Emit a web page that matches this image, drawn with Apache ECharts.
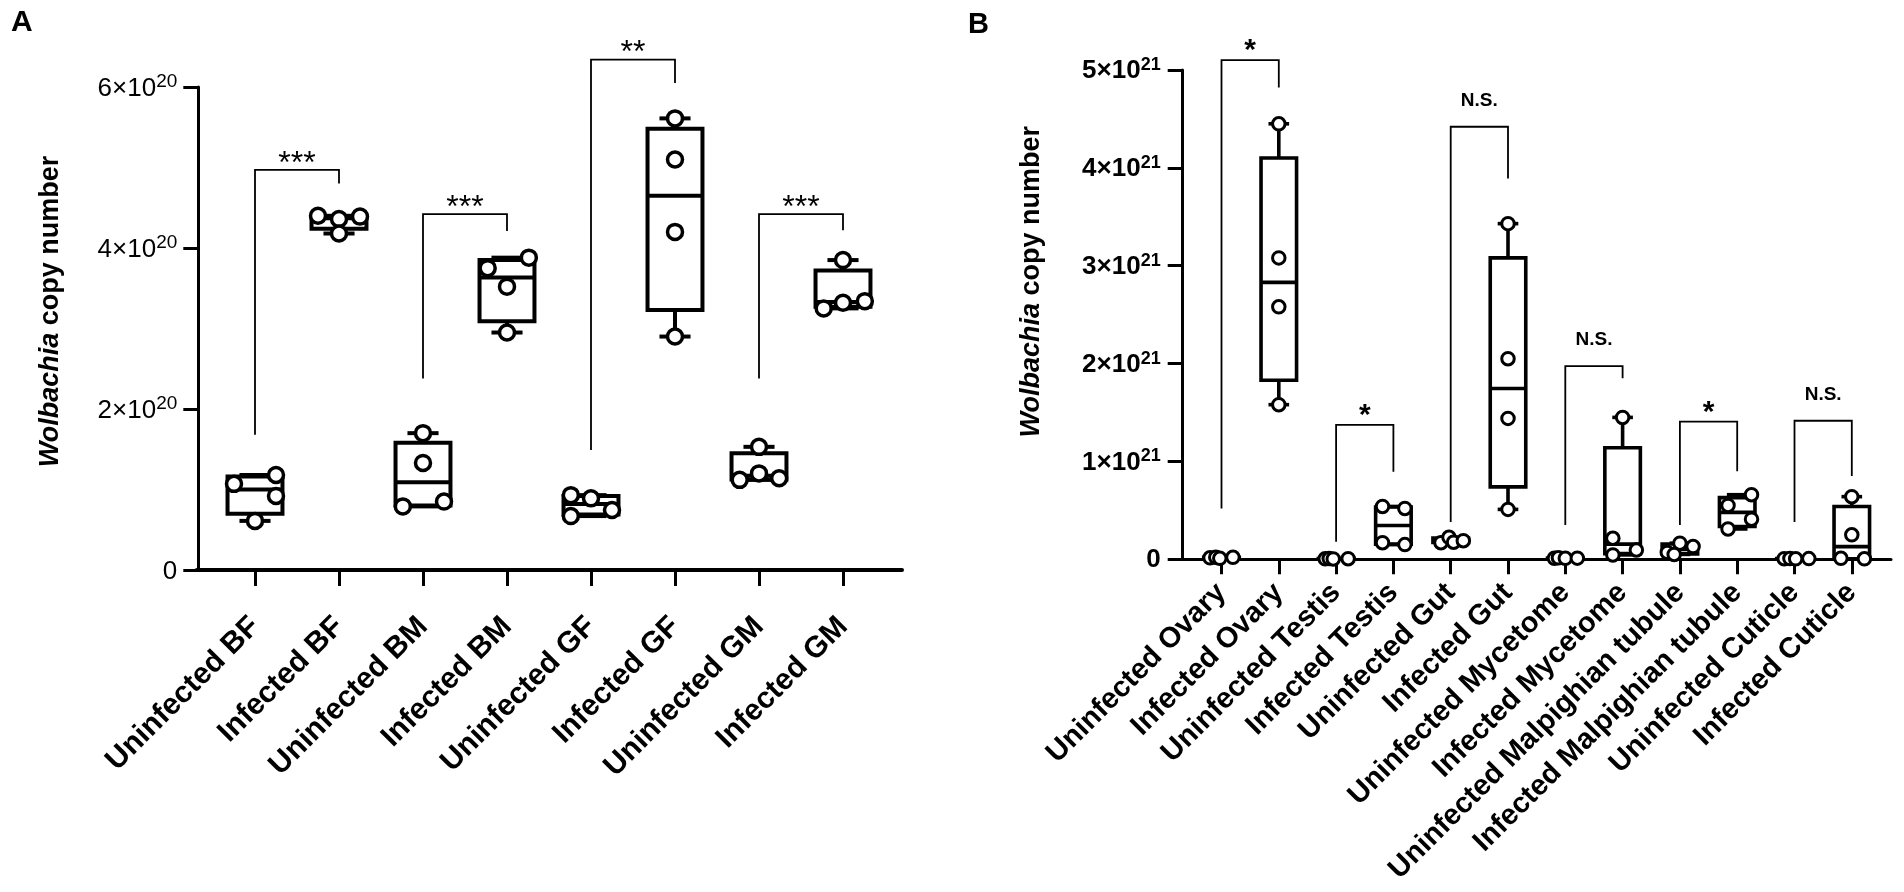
<!DOCTYPE html>
<html><head><meta charset="utf-8">
<script src="https://cdn.jsdelivr.net/npm/echarts@6/dist/echarts.min.js"></script>
<style>html,body{margin:0;padding:0;background:#fff}#c{width:1904px;height:892px}</style>
</head><body><div id="c"></div>
<script>
// ---------- Panel A data ----------
const catsA = ['Uninfected BF','Infected BF','Uninfected BM','Infected BM','Uninfected GF','Infected GF','Uninfected GM','Infected GM'];
const yTicksA = [0, 2e20, 4e20, 6e20];
const yLabelsA = ['{b|0}', '{b|2×10}{s|20}', '{b|4×10}{s|20}', '{b|6×10}{s|20}'];
// individual points per group
const valuesA = [
  [1.07e20, 1.18e20, 0.92e20, 0.61e20],
  [4.40e20, 4.36e20, 4.39e20, 4.18e20],
  [1.70e20, 1.33e20, 0.79e20, 0.85e20],
  [3.75e20, 3.88e20, 3.52e20, 2.95e20],
  [0.93e20, 0.89e20, 0.67e20, 0.745e20],
  [5.61e20, 5.10e20, 4.20e20, 2.90e20],
  [1.53e20, 1.20e20, 1.12e20, 1.14e20],
  [3.85e20, 3.25e20, 3.32e20, 3.34e20]
];
// box stats [min, Q1, median, Q3, max]
const boxA = [
  [0.61e20, 0.70e20, 1.00e20, 1.16e20, 1.18e20],
  [4.18e20, 4.24e20, 4.37e20, 4.39e20, 4.40e20],
  [0.79e20, 0.80e20, 1.09e20, 1.58e20, 1.70e20],
  [2.95e20, 3.09e20, 3.635e20, 3.85e20, 3.88e20],
  [0.67e20, 0.69e20, 0.82e20, 0.92e20, 0.93e20],
  [2.90e20, 3.23e20, 4.65e20, 5.48e20, 5.61e20],
  [1.12e20, 1.125e20, 1.17e20, 1.45e20, 1.53e20],
  [3.25e20, 3.27e20, 3.33e20, 3.72e20, 3.85e20]
];
// significance brackets
const bracketPairsA = [[0,1],[2,3],[4,5],[6,7]];
const bracketLabelsA = ['***','***','**','***'];
const bracketTopA = [4.97e20, 4.42e20, 6.34e20, 4.42e20];
const bracketLeftEndA = [1.68e20, 2.38e20, 1.49e20, 2.38e20];
const bracketRightEndA = [4.80e20, 4.21e20, 6.05e20, 4.22e20];

// ---------- Panel B data ----------
const catsB = ['Uninfected Ovary','Infected Ovary','Uninfected Testis','Infected Testis','Uninfected Gut','Infected Gut','Uninfected Mycetome','Infected Mycetome','Uninfected Malpighian tubule','Infected Malpighian tubule','Uninfected Cuticle','Infected Cuticle'];
const yTicksB = [0, 1e21, 2e21, 3e21, 4e21, 5e21];
const yLabelsB = ['{b|0}', '{b|1×10}{s|21}', '{b|2×10}{s|21}', '{b|3×10}{s|21}', '{b|4×10}{s|21}', '{b|5×10}{s|21}'];
const valuesB = [
  [0.015e21, 0.02e21, 0.01e21, 0.02e21],
  [4.45e21, 3.08e21, 2.58e21, 1.58e21],
  [0.005e21, 0.008e21, 0.004e21, 0.006e21],
  [0.54e21, 0.52e21, 0.17e21, 0.15e21],
  [0.17e21, 0.225e21, 0.175e21, 0.19e21],
  [3.43e21, 2.05e21, 1.44e21, 0.51e21],
  [0.01e21, 0.015e21, 0.01e21, 0.012e21],
  [1.45e21, 0.215e21, 0.045e21, 0.095e21],
  [0.07e21, 0.165e21, 0.13e21, 0.05e21],
  [0.66e21, 0.55e21, 0.41e21, 0.31e21],
  [0.006e21, 0.008e21, 0.005e21, 0.007e21],
  [0.64e21, 0.25e21, 0.01e21, 0.005e21]
];
const boxB = [
  [0.01e21, 0.011e21, 0.0175e21, 0.02e21, 0.02e21],
  [1.58e21, 1.83e21, 2.83e21, 4.10e21, 4.45e21],
  [0.004e21, 0.0043e21, 0.0055e21, 0.0075e21, 0.008e21],
  [0.15e21, 0.155e21, 0.345e21, 0.535e21, 0.54e21],
  [0.17e21, 0.171e21, 0.1825e21, 0.216e21, 0.225e21],
  [0.51e21, 0.74e21, 1.745e21, 3.08e21, 3.43e21],
  [0.01e21, 0.01e21, 0.011e21, 0.014e21, 0.015e21],
  [0.045e21, 0.0575e21, 0.155e21, 1.14e21, 1.45e21],
  [0.05e21, 0.055e21, 0.10e21, 0.156e21, 0.165e21],
  [0.31e21, 0.335e21, 0.48e21, 0.63e21, 0.66e21],
  [0.005e21, 0.0055e21, 0.0065e21, 0.0078e21, 0.008e21],
  [0.005e21, 0.006e21, 0.13e21, 0.54e21, 0.64e21]
];
const bracketPairsB = [[0,1],[2,3],[4,5],[6,7],[8,9],[10,11]];
const bracketLabelsB = ['*','*','N.S.','N.S.','*','N.S.'];
const bracketTopB = [5.10e21, 1.373e21, 4.42e21, 1.975e21, 1.406e21, 1.416e21];
const bracketLeftEndB = [0.52e21, 0.18e21, 0.38e21, 0.35e21, 0.35e21, 0.38e21];
const bracketRightEndB = [4.82e21, 0.895e21, 3.89e21, 1.85e21, 0.90e21, 0.85e21];

// ---------- layout (horizontal spread of points, in category units) ----------
const jitterA = [
  [-0.25, 0.25, 0.25, 0], [-0.25, 0, 0.25, 0], [0, 0, -0.24, 0.25], [-0.23, 0.26, 0, 0],
  [-0.24, 0, -0.24, 0.25], [0, 0, 0, 0], [0, 0, -0.23, 0.24], [0, -0.23, 0, 0.26]
];
const jitterB = [
  [-0.2, -0.1, -0.03, 0.2], [0, 0, 0, 0], [-0.19, -0.12, -0.05, 0.21], [-0.19, 0.2, -0.19, 0.2],
  [-0.17, -0.03, 0.05, 0.22], [0, 0, 0, 0], [-0.19, -0.12, 0.0, 0.21], [0, -0.17, -0.17, 0.24],
  [-0.22, 0.0, 0.23, -0.1], [0.25, -0.16, 0.25, -0.16], [-0.18, -0.08, 0.02, 0.25], [0, 0, -0.19, 0.22]
];

const FONT = '"Liberation Sans", Arial, Helvetica, sans-serif';

function boxRender(halfW, capHalf, lw) {
  return function (params, api) {
    const x = api.value(0);
    const p = [1,2,3,4,5].map(i => api.coord([x, api.value(i)]));
    const unit = api.size([1, 0])[0];
    const hw = halfW * unit, ch = capHalf * unit;
    const cx = p[0][0];
    const st = {stroke: '#000', lineWidth: lw, fill: null};
    return {type: 'group', children: [
      {type: 'line', shape: {x1: cx, y1: p[3][1], x2: cx, y2: p[4][1]}, style: st},
      {type: 'line', shape: {x1: cx, y1: p[1][1], x2: cx, y2: p[0][1]}, style: st},
      {type: 'line', shape: {x1: cx - ch, y1: p[4][1], x2: cx + ch, y2: p[4][1]}, style: st},
      {type: 'line', shape: {x1: cx - ch, y1: p[0][1], x2: cx + ch, y2: p[0][1]}, style: st},
      {type: 'rect', shape: {x: cx - hw, y: p[3][1], width: 2 * hw, height: Math.max(p[1][1] - p[3][1], 0.5)}, style: st},
      {type: 'line', shape: {x1: cx - hw, y1: p[2][1], x2: cx + hw, y2: p[2][1]}, style: st}
    ]};
  };
}

function bracketRender(labels, lw, fontCfg) {
  return function (params, api) {
    const a = api.coord([api.value(0), api.value(2)]);
    const b = api.coord([api.value(1), api.value(2)]);
    const la = api.coord([api.value(0), api.value(3)]);
    const rb = api.coord([api.value(1), api.value(4)]);
    const lab = labels[params.dataIndex];
    const star = lab.indexOf('*') >= 0;
    const f = star ? fontCfg.star : fontCfg.ns;
    return {type: 'group', children: [
      {type: 'polyline', shape: {points: [[la[0], la[1]], [a[0], a[1]], [b[0], b[1]], [rb[0], rb[1]]]},
       style: {stroke: '#000', lineWidth: lw, fill: null}},
      {type: 'text', x: (a[0] + b[0]) / 2, y: a[1] - f.gap,
       style: {text: lab, fill: '#000', fontSize: f.size, fontWeight: f.weight, fontFamily: FONT,
               align: 'center', verticalAlign: 'middle'}}
    ]};
  };
}

function pts(values, jitter) {
  const out = [];
  values.forEach((g, i) => g.forEach((v, j) => out.push([i + jitter[i][j], v])));
  return out;
}

const nameRich = (fs) => ({
  i: {fontSize: fs, fontWeight: 'bold', fontStyle: 'italic', fontFamily: FONT, color: '#000'},
  n: {fontSize: fs, fontWeight: 'bold', fontFamily: FONT, color: '#000'}
});

const option = {
  animation: false,
  backgroundColor: '#fff',
  title: [
    {text: 'A', left: 11, top: 8, padding: 0, textStyle: {fontSize: 30, fontWeight: 'bold', fontFamily: FONT, color: '#000'}},
    {text: 'B', left: 968, top: 10, padding: 0, textStyle: {fontSize: 29, fontWeight: 'bold', fontFamily: FONT, color: '#000'}}
  ],
  grid: [
    {left: 213, top: 87, width: 672, height: 483, outerBoundsMode: 'none'},
    {left: 196.8, top: 87, width: 705.2, height: 483, outerBoundsMode: 'none'},
    {left: 1192.85, top: 70, width: 687.6, height: 489.3, outerBoundsMode: 'none'},
    {left: 1181.2, top: 70, width: 709.8, height: 489.3, outerBoundsMode: 'none'}
  ],
  xAxis: [
    {type: 'category', gridIndex: 0, data: catsA, boundaryGap: true,
     axisLine: {show: false, onZero: false},
     axisTick: {show: true, alignWithLabel: true, length: 16, lineStyle: {color: '#000', width: 3}},
     axisLabel: {interval: 0, rotate: 45, margin: 52, padding: [14, 0, 0, 0], fontSize: 30, fontWeight: 'bold', fontFamily: FONT, color: '#000'},
     splitLine: {show: false}},
    {type: 'value', gridIndex: 0, min: -0.5, max: 7.5, show: false, axisLine: {onZero: false}},
    {type: 'value', gridIndex: 1, min: 0, max: 1,
     axisLine: {show: true, onZero: false, lineStyle: {color: '#000', width: 4}},
     axisTick: {show: false}, axisLabel: {show: false}, splitLine: {show: false}},
    {type: 'category', gridIndex: 2, data: catsB, boundaryGap: true,
     axisLine: {show: false, onZero: false},
     axisTick: {show: true, alignWithLabel: true, length: 15, lineStyle: {color: '#000', width: 3}},
     axisLabel: {interval: 0, rotate: 45, margin: 29, padding: [27, 0, 0, 0], fontSize: 29, fontWeight: 'bold', fontFamily: FONT, color: '#000'},
     splitLine: {show: false}},
    {type: 'value', gridIndex: 2, min: -0.5, max: 11.5, show: false, axisLine: {onZero: false}},
    {type: 'value', gridIndex: 3, min: 0, max: 1,
     axisLine: {show: true, onZero: false, lineStyle: {color: '#000', width: 3}},
     axisTick: {show: false}, axisLabel: {show: false}, splitLine: {show: false}}
  ],
  yAxis: [
    {type: 'value', gridIndex: 0, min: yTicksA[0], max: yTicksA[yTicksA.length - 1], interval: yTicksA[1] - yTicksA[0],
     offset: 14.7,
     axisLine: {show: true, onZero: false, lineStyle: {color: '#000', width: 3}},
     axisTick: {show: true, length: 15, lineStyle: {color: '#000', width: 3}},
     splitLine: {show: false},
     axisLabel: {margin: 21, formatter: (v, i) => yLabelsA[i],
       rich: {b: {fontSize: 26, fontFamily: FONT, color: '#000', lineHeight: 30, verticalAlign: 'bottom'},
              s: {fontSize: 19, fontFamily: FONT, color: '#000', lineHeight: 20, verticalAlign: 'top'}}},
     name: '{i|Wolbachia} {n|copy number}', nameLocation: 'middle', nameGap: 134, nameRotate: 90,
     nameTextStyle: {fontSize: 27, fontWeight: 'bold', fontFamily: FONT, color: '#000', padding: [0, 0, 0, 34], rich: nameRich(27)}},
    {type: 'value', gridIndex: 1, min: 0, max: 1, show: false, axisLine: {onZero: false}},
    {type: 'value', gridIndex: 2, min: yTicksB[0], max: yTicksB[yTicksB.length - 1], interval: yTicksB[1] - yTicksB[0],
     offset: 10.15,
     axisLine: {show: true, onZero: false, lineStyle: {color: '#000', width: 3}},
     axisTick: {show: true, length: 15, lineStyle: {color: '#000', width: 3}},
     splitLine: {show: false},
     axisLabel: {margin: 22, formatter: (v, i) => yLabelsB[i],
       rich: {b: {fontSize: 26, fontWeight: 'bold', fontFamily: FONT, color: '#000', lineHeight: 28, verticalAlign: 'bottom'},
              s: {fontSize: 18, fontWeight: 'bold', fontFamily: FONT, color: '#000', lineHeight: 14, verticalAlign: 'top'}}},
     name: '{i|Wolbachia} {n|copy number}', nameLocation: 'middle', nameGap: 138, nameRotate: 90,
     nameTextStyle: {fontSize: 27, fontWeight: 'bold', fontFamily: FONT, color: '#000', padding: [0, 0, 0, 66], rich: nameRich(27)}},
    {type: 'value', gridIndex: 3, min: 0, max: 1, show: false, axisLine: {onZero: false}}
  ],
  series: [
    {type: 'custom', xAxisIndex: 1, yAxisIndex: 0, z: 2, clip: false,
     data: boxA.map((b, i) => [i].concat(b)), encode: {x: 0, y: [1, 2, 3, 4, 5]},
     renderItem: boxRender(0.327, 0.185, 4)},
    {type: 'custom', xAxisIndex: 1, yAxisIndex: 0, z: 2, clip: false,
     data: bracketPairsA.map((p, i) => [p[0], p[1], bracketTopA[i], bracketLeftEndA[i], bracketRightEndA[i]]),
     encode: {x: [0, 1], y: [2, 3, 4]},
     renderItem: bracketRender(bracketLabelsA, 1.8, {star: {size: 32, weight: 'normal', gap: 6}, ns: {size: 20, weight: 'bold', gap: 26}})},
    {type: 'scatter', xAxisIndex: 1, yAxisIndex: 0, z: 3, symbol: 'circle', symbolSize: 15,
     itemStyle: {color: '#fff', borderColor: '#000', borderWidth: 3.5, opacity: 1},
     data: pts(valuesA, jitterA)},
    {type: 'custom', xAxisIndex: 4, yAxisIndex: 2, z: 2, clip: false,
     data: boxB.map((b, i) => [i].concat(b)), encode: {x: 0, y: [1, 2, 3, 4, 5]},
     renderItem: boxRender(0.31, 0.18, 3.6)},
    {type: 'custom', xAxisIndex: 4, yAxisIndex: 2, z: 2, clip: false,
     data: bracketPairsB.map((p, i) => [p[0], p[1], bracketTopB[i], bracketLeftEndB[i], bracketRightEndB[i]]),
     encode: {x: [0, 1], y: [2, 3, 4]},
     renderItem: bracketRender(bracketLabelsB, 1.8, {star: {size: 30, weight: 'bold', gap: 9}, ns: {size: 19, weight: 'bold', gap: 26}})},
    {type: 'scatter', xAxisIndex: 4, yAxisIndex: 2, z: 3, symbol: 'circle', symbolSize: 12.5,
     itemStyle: {color: '#fff', borderColor: '#000', borderWidth: 3, opacity: 1},
     data: pts(valuesB, jitterB)}
  ]
};

const chart = echarts.init(document.getElementById('c'), null, {renderer: 'canvas'});
chart.setOption(option);
</script>
</body></html>
